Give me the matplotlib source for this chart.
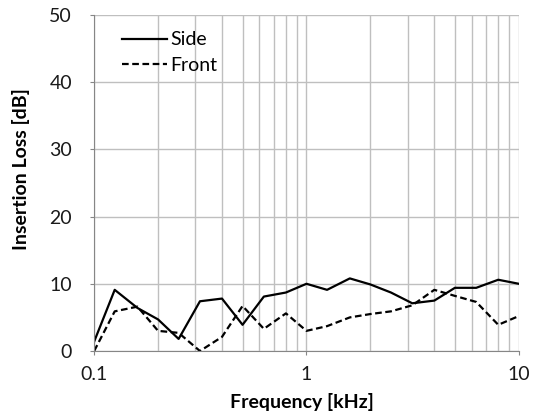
import numpy as np
import matplotlib
matplotlib.use("Agg")
import matplotlib.pyplot as plt
from matplotlib.ticker import FixedLocator, NullFormatter

plt.rcParams["font.family"] = ["Lato", "DejaVu Sans"]

# third-octave band centres [kHz]
freq = [0.1, 0.125, 0.16, 0.2, 0.25, 0.315, 0.4, 0.5, 0.63, 0.8, 1,
        1.25, 1.6, 2, 2.5, 3.15, 4, 5, 6.3, 8, 10]
side = [1.4, 9.1, 6.4, 4.7, 1.8, 7.4, 7.8, 3.9, 8.1, 8.7, 10.0,
        9.1, 10.8, 9.9, 8.7, 7.1, 7.5, 9.4, 9.4, 10.6, 10.0]
front = [0.0, 5.9, 6.6, 3.0, 2.7, 0.0, 2.1, 6.7, 3.3, 5.6, 3.0,
         3.7, 5.0, 5.5, 5.9, 6.8, 9.1, 8.2, 7.3, 3.9, 5.2]

x_ticks = [0.1, 1, 10]
x_ticklabels = ["0.1", "1", "10"]
y_ticks = [0, 10, 20, 30, 40, 50]

fig = plt.figure(figsize=(5.41, 4.12), dpi=100)
ax = fig.add_axes([0.174, 0.148, 0.785, 0.816])

grid_col = "#bfbfbf"
ax.set_xscale("log")
ax.set_xlim(0.1, 10)
ax.set_ylim(0, 50)

minor = [m * d for d in (0.1, 1) for m in range(2, 10)]
ax.xaxis.set_major_locator(FixedLocator(x_ticks))
ax.xaxis.set_minor_locator(FixedLocator(minor))
ax.xaxis.set_minor_formatter(NullFormatter())
ax.set_xticklabels(x_ticklabels)
ax.set_yticks(y_ticks)

ax.grid(True, which="both", axis="x", color=grid_col, lw=1)
ax.grid(True, which="major", axis="y", color=grid_col, lw=1)
ax.set_axisbelow(True)

for s in ("top", "right"):
    ax.spines[s].set_visible(False)
ax.spines["left"].set_color("#868686")
ax.spines["bottom"].set_color("#868686")
ax.tick_params(axis="y", which="major", color="#868686", length=3,
               labelsize=14, labelcolor="#1a1a1a", pad=13)
ax.tick_params(axis="x", which="major", color="#868686", length=3,
               labelsize=14, labelcolor="#1a1a1a", pad=8)
ax.tick_params(axis="x", which="minor", length=0)

ax.plot(freq, side, color="black", lw=1.6, label="Side")
ax.plot(freq, front, color="black", lw=1.6, ls=(0, (3, 1.6)), label="Front")

ax.set_xlabel("Frequency [kHz]", fontsize=14, fontweight="bold")
ax.set_ylabel("Insertion Loss [dB]", fontsize=14, fontweight="bold")
ax.xaxis.set_label_coords(0.49, -0.125)
ax.yaxis.set_label_coords(-0.15, 0.54)

leg = ax.legend(loc="upper left", bbox_to_anchor=(0.025, 1.003), frameon=False,
                fontsize=14, handlelength=2.3, handletextpad=0.15,
                labelspacing=0.45)

fig.savefig("out.png", dpi=100)
